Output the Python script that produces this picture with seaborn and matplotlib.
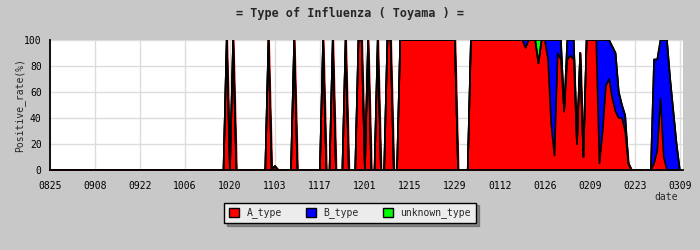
import numpy as np
import matplotlib
matplotlib.use("Agg")
import matplotlib.pyplot as plt
import seaborn as sns
from matplotlib.patches import Patch

# ---- data (daily positive rate %, day 0 = 08/25) ----
tick_labels = ["0825", "0908", "0922", "1006", "1020", "1103", "1117", "1201",
               "1215", "1229", "0112", "0126", "0209", "0223", "0309"]
series_names = ["A_type", "B_type", "unknown_type"]

a_type = [
    0, 0, 0, 0, 0, 0, 0, 0, 0, 0, 0, 0, 0, 0,
    0, 0, 0, 0, 0, 0, 0, 0, 0, 0, 0, 0, 0, 0,
    0, 0, 0, 0, 0, 0, 0, 0, 0, 0, 0, 0, 0, 0,
    0, 0, 0, 0, 0, 0, 0, 0, 0, 0, 0, 0, 0, 100,
    0, 100, 0, 0, 0, 0, 0, 0, 0, 0, 0, 0, 100, 0,
    3, 0, 0, 0, 0, 0, 100, 0, 0, 0, 0, 0, 0, 0,
    0, 100, 0, 0, 100, 0, 0, 0, 100, 0, 0, 0, 100, 100,
    0, 100, 0, 0, 100, 0, 0, 100, 100, 0, 0, 100, 100, 100,
    100, 100, 100, 100, 100, 100, 100, 100, 100, 100, 100, 100, 100, 100,
    100, 0, 0, 0, 0, 100, 100, 100, 100, 100, 100, 100, 100, 100,
    100, 100, 100, 100, 100, 100, 100, 100, 94, 100, 100, 100, 82, 100,
    100, 85, 35, 11, 90, 85, 45, 85, 88, 85, 20, 90, 10, 100,
    100, 100, 100, 5, 30, 65, 70, 55, 45, 40, 40, 30, 5, 0,
    0, 0, 0, 0, 0, 0, 5, 15, 55, 10, 0, 0, 0, 0,
    0,
]
b_type = [
    0, 0, 0, 0, 0, 0, 0, 0, 0, 0, 0, 0, 0, 0,
    0, 0, 0, 0, 0, 0, 0, 0, 0, 0, 0, 0, 0, 0,
    0, 0, 0, 0, 0, 0, 0, 0, 0, 0, 0, 0, 0, 0,
    0, 0, 0, 0, 0, 0, 0, 0, 0, 0, 0, 0, 0, 0,
    0, 0, 0, 0, 0, 0, 0, 0, 0, 0, 0, 0, 0, 0,
    0, 0, 0, 0, 0, 0, 0, 0, 0, 0, 0, 0, 0, 0,
    0, 0, 0, 0, 0, 0, 0, 0, 0, 0, 0, 0, 0, 0,
    0, 0, 0, 0, 0, 0, 0, 0, 0, 0, 0, 0, 0, 0,
    0, 0, 0, 0, 0, 0, 0, 0, 0, 0, 0, 0, 0, 0,
    0, 0, 0, 0, 0, 0, 0, 0, 0, 0, 0, 0, 0, 0,
    0, 0, 0, 0, 0, 0, 0, 0, 6, 0, 0, 0, 0, 0,
    0, 15, 65, 89, 10, 15, 0, 15, 12, 15, 0, 0, 0, 0,
    0, 0, 0, 95, 70, 35, 30, 40, 45, 20, 10, 12, 0, 0,
    0, 0, 0, 0, 0, 0, 80, 70, 45, 90, 100, 70, 45, 20,
    0,
]
unknown_type = [
    0, 0, 0, 0, 0, 0, 0, 0, 0, 0, 0, 0, 0, 0,
    0, 0, 0, 0, 0, 0, 0, 0, 0, 0, 0, 0, 0, 0,
    0, 0, 0, 0, 0, 0, 0, 0, 0, 0, 0, 0, 0, 0,
    0, 0, 0, 0, 0, 0, 0, 0, 0, 0, 0, 0, 0, 0,
    0, 0, 0, 0, 0, 0, 0, 0, 0, 0, 0, 0, 0, 0,
    0, 0, 0, 0, 0, 0, 0, 0, 0, 0, 0, 0, 0, 0,
    0, 0, 0, 0, 0, 0, 0, 0, 0, 0, 0, 0, 0, 0,
    0, 0, 0, 0, 0, 0, 0, 0, 0, 0, 0, 0, 0, 0,
    0, 0, 0, 0, 0, 0, 0, 0, 0, 0, 0, 0, 0, 0,
    0, 0, 0, 0, 0, 0, 0, 0, 0, 0, 0, 0, 0, 0,
    0, 0, 0, 0, 0, 0, 0, 0, 0, 0, 0, 0, 18, 0,
    0, 0, 0, 0, 0, 0, 0, 0, 0, 0, 0, 0, 0, 0,
    0, 0, 0, 0, 0, 0, 0, 0, 0, 0, 0, 0, 0, 0,
    0, 0, 0, 0, 0, 0, 0, 0, 0, 0, 0, 0, 0, 0,
    0,
]
colors = ["#ff0000", "#0000ff", "#00ff00"]

# ---- figure ----
sns.set_style("white")
plt.rcParams['font.family'] = ['DejaVu Sans Mono', 'DejaVu Sans']

fig = plt.figure(figsize=(7, 2.5), dpi=100, facecolor="#c8c8c8")
ax = fig.add_axes([50 / 700, 80 / 250, 633 / 700, 130 / 250])
ax.set_facecolor("white")

days = np.arange(len(a_type))
a = np.array(a_type, float)
b = np.array(b_type, float)
u = np.array(unknown_type, float)
s1, s2, s3 = a, a + b, a + b + u

# A layer gets a same-colour edge so narrow spikes keep some body, like the reference
ax.fill_between(days, 0, s1, facecolor=colors[0], edgecolor=colors[0], lw=1.4, zorder=2)
ax.fill_between(days, s1, s2, facecolor=colors[1], lw=0, zorder=2)
ax.fill_between(days, s2, s3, facecolor=colors[2], lw=0, zorder=2)
for s in (s1, s2, s3):
    sns.lineplot(x=days, y=s, color="black", lw=1.2, ax=ax, legend=False, zorder=3)

ax.set_xlim(0, 197)
ax.set_ylim(0, 100)
ax.set_xticks(np.arange(0, 197, 14))
ax.set_xticklabels(tick_labels)
ax.set_yticks(np.arange(0, 101, 20))
ax.set_yticks(np.arange(10, 100, 20), minor=True)
ax.grid(True, which="major", color="#dcdcdc", lw=1.0)
ax.set_axisbelow(True)
ax.tick_params(axis="both", which="major", direction="in", length=5, width=1,
               colors="black", labelsize=7)
ax.tick_params(axis="x", pad=8)
ax.tick_params(axis="y", pad=6)
ax.tick_params(axis="y", which="minor", direction="in", length=3, width=1, colors="black")
for side in ("top", "right"):
    ax.spines[side].set_visible(False)
for side in ("left", "bottom"):
    ax.spines[side].set_color("black")
    ax.spines[side].set_linewidth(1.3)
    ax.spines[side].set_zorder(5)
ax.set_xlabel("")
ax.set_ylabel("")

fig.text(0.5, 1 - 13 / 250, "= Type of Influenza ( Toyama ) =", ha="center", va="center",
         fontsize=8.5, fontweight="bold")
fig.text(20 / 700, 1 - 105 / 250, "Positive_rate(%)", rotation=90, ha="center", va="center",
         fontsize=7)
fig.text(666 / 700, 1 - 197 / 250, "date", ha="center", va="center", fontsize=7)

handles = [Patch(facecolor=c, edgecolor="black", lw=1, label=n) for c, n in zip(colors, series_names)]
leg = fig.legend(handles=handles, loc="center", bbox_to_anchor=(350 / 700, 1 - 213 / 250), ncol=3,
                 frameon=True, fancybox=False, shadow=True, facecolor="#ececec", edgecolor="black",
                 fontsize=7, handlelength=1.0, handleheight=1.0, columnspacing=2.5,
                 borderpad=0.5, handletextpad=0.8)
leg.get_frame().set_linewidth(1)
leg.get_frame().set_alpha(1)

fig.savefig("out.png", dpi=100, facecolor=fig.get_facecolor(), edgecolor="black")
